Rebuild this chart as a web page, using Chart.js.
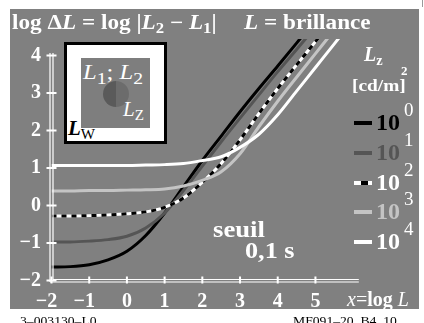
<!DOCTYPE html>
<html><head><meta charset="utf-8">
<script src="https://cdn.jsdelivr.net/npm/chart.js@4"></script>
<style>
html,body{margin:0;padding:0;background:#fff;width:424px;height:323px;overflow:hidden;}
#wrap{position:relative;width:424px;height:323px;}
#bg{position:absolute;left:10px;top:9px;width:409px;height:300px;background:#808080;}
#c{position:absolute;left:0;top:0;}
.t{position:absolute;font-family:'Liberation Serif','Times New Roman',serif;white-space:nowrap;line-height:1;color:#fff;transform-origin:0 0;}
.b{font-weight:bold;}
.sub{font-size:72%;position:relative;top:0.28em;}
.sup{position:absolute;font-family:'Liberation Serif',serif;line-height:1;color:#fff;font-size:19px;}
.ln{position:absolute;height:4px;}
</style></head>
<body>
<div id="wrap">
<div id="bg"></div>
<canvas id="c" width="424" height="323"></canvas>

<div class="t b" style="left:12px;top:12px;font-size:20px;transform:scaleX(1.16);">log Δ<i>L</i> = log |<i>L</i><span class="sub">2</span> − <i>L</i><span class="sub">1</span>|</div>
<div class="t b" style="left:244px;top:12px;font-size:20px;transform:scaleX(1.16);"><i>L</i> = brillance</div>

<div style="position:absolute;left:64px;top:42px;width:103px;height:102px;box-sizing:border-box;border:3px solid #000;background:#fff;"></div>
<div style="position:absolute;left:81px;top:58px;width:69px;height:70px;background:#7e7e7e;"></div>
<div style="position:absolute;left:103px;top:81px;width:26px;height:26px;border-radius:50%;background:linear-gradient(to right,#5a5a5a 50%,#6c6c6c 50%);"></div>
<div class="t" style="left:83px;top:61px;font-size:22px;transform:scaleX(1.12);"><i>L</i><span class="sub" style="font-size:80%">1</span>; <i>L</i><span class="sub" style="font-size:80%">2</span></div>
<div class="t" style="left:123px;top:99px;font-size:21px;"><i>L</i><span class="sub">Z</span></div>
<div class="t b" style="left:68px;top:118px;font-size:21px;color:#000;"><i>L</i><span class="sub" style="font-weight:normal">W</span></div>

<div class="t b" style="left:364px;top:44px;font-size:20px;"><i>L</i><span class="sub">z</span></div>
<div class="t b" style="left:352px;top:77px;font-size:17px;transform:scaleX(1.14);">[cd/m]</div>
<div class="t b" style="left:401px;top:64px;font-size:13px;">2</div>

<div id="legend"></div>

<div class="t b" style="left:213px;top:218px;font-size:23px;transform:scaleX(1.16);">seuil</div>
<div class="t b" style="left:245px;top:239px;font-size:23px;transform:scaleX(1.14);">0,1 s</div>

<div class="t" style="left:347px;top:289px;font-size:20px;"><i>x</i>=<b>log</b><i> L</i></div>

<div class="t" style="left:20px;top:314px;font-size:13px;color:#000;transform:scaleX(1.05);">3–003130–L0</div>
<div class="t" style="left:293px;top:314px;font-size:13px;color:#000;transform:scaleX(1.05);">MF091–20, B4_10</div>
<div style="position:absolute;left:422px;top:0;width:1px;height:7px;background:#999;"></div>
</div>

<script>
// ---- data ----
const xValues = [-2, -1.5, -1, -0.5, 0, 0.5, 1, 1.5, 2, 2.5, 3, 3.5, 4, 4.5, 5, 5.5, 6];
const lz1     = [-1.64, -1.63, -1.58, -1.45, -1.22, -0.80, -0.20, 0.50, 1.20, 1.85, 2.50, 3.12, 3.72, 4.33, 4.95, 5.57, 6.20];
const lz10    = [-0.97, -0.97, -0.95, -0.91, -0.82, -0.60, -0.20, 0.40, 1.05, 1.70, 2.33, 2.95, 3.57, 4.16, 4.76, 5.36, 5.96];
const lz100   = [-0.28, -0.28, -0.27, -0.25, -0.22, -0.17, -0.05, 0.20, 0.62, 1.12, 1.75, 2.45, 3.12, 3.75, 4.37, 5.00, 5.62];
const lz1000  = [0.39, 0.39, 0.40, 0.40, 0.41, 0.42, 0.44, 0.52, 0.67, 0.90, 1.38, 2.10, 2.78, 3.42, 4.05, 4.68, 5.30];
const lz10000 = [1.07, 1.07, 1.07, 1.07, 1.07, 1.08, 1.09, 1.12, 1.20, 1.30, 1.55, 1.90, 2.42, 3.05, 3.68, 4.31, 4.95];
const seriesExp = ['0', '1', '2', '3', '4'];
const xTicks = [-2, -1, 0, 1, 2, 3, 4, 5];
const xTickLabels = ['−2', '−1', '0', '1', '2', '3', '4', '5'];
const yTicks = [-2, -1, 0, 1, 2, 3, 4];
const yTickLabels = ['−2', '−1', '0', '1', '2', '3', '4'];

const pts = arr => xValues.map((x, i) => ({x: x, y: arr[i]}));
const font = {family: "'Liberation Serif', serif", size: 20, weight: 'bold'};

const axesPlugin = {
  id: 'axesDraw',
  afterDatasetsDraw(chart) {
    const {ctx, scales: {x, y}} = chart;
    const x0 = x.getPixelForValue(-2), y0 = y.getPixelForValue(-2);
    const yTop = y.getPixelForValue(4.07), xEnd = x.getPixelForValue(6.15);
    ctx.save();
    ctx.strokeStyle = '#fff';
    ctx.lineWidth = 1.2;
    ctx.beginPath();
    ctx.moveTo(x0 - 1.5, yTop); ctx.lineTo(x0 - 1.5, y0 + 1.5);
    ctx.moveTo(x0 + 1.5, yTop); ctx.lineTo(x0 + 1.5, y0 - 1);
    ctx.moveTo(x0 - 1.5, y0 + 1.5); ctx.lineTo(xEnd, y0 + 1.5);
    ctx.moveTo(x0 + 1.5, y0 - 1); ctx.lineTo(xEnd, y0 - 1);
    ctx.stroke();
    ctx.lineWidth = 2;
    ctx.beginPath();
    yTicks.forEach(v => { const p = y.getPixelForValue(v); ctx.moveTo(x0 - 5, p); ctx.lineTo(x0 + 5, p); });
    xTicks.forEach(v => { const p = x.getPixelForValue(v); ctx.moveTo(p, y0 - 4); ctx.lineTo(p, y0 + 3); });
    ctx.stroke();
    ctx.restore();
  }
};

new Chart(document.getElementById('c'), {
  type: 'line',
  data: {
    datasets: [
      {label: '10^0', data: pts(lz1), borderColor: '#000', order: 6},
      {label: '10^1', data: pts(lz10), borderColor: '#555', order: 5},
      {label: '10^2', data: pts(lz100), borderColor: '#fff', order: 4},
      {label: '10^2 dash', data: pts(lz100), borderColor: '#000', borderDash: [5, 5], order: 3.5},
      {label: '10^3', data: pts(lz1000), borderColor: '#c4c4c4', order: 2},
      {label: '10^4', data: pts(lz10000), borderColor: '#fff', order: 1}
    ]
  },
  options: {
    responsive: false, animation: false, devicePixelRatio: 1,
    layout: {padding: {left: 0, top: 39, right: 65.2, bottom: 0}},
    plugins: {legend: {display: false}, tooltip: {enabled: false}},
    elements: {point: {radius: 0}, line: {cubicInterpolationMode: 'monotone', borderWidth: 3, fill: false}},
    scales: {
      x: {
        type: 'linear', min: -2, max: 6.15,
        afterBuildTicks: s => { s.ticks = xTicks.map(v => ({value: v})); },
        afterFit: s => { s.height = 42.5; },
        grid: {display: false, drawTicks: false}, border: {display: false},
        ticks: {color: '#fff', font: font, padding: 9, maxRotation: 0, autoSkip: false,
          callback: (v, i) => xTickLabels[i] + (xTicks[i] < 0 ? '\u2002' : '')}
      },
      y: {
        type: 'linear', min: -2, max: 4.44,
        afterBuildTicks: s => { s.ticks = yTicks.map(v => ({value: v})); },
        afterFit: s => { s.width = 51.5; },
        grid: {display: false, drawTicks: false}, border: {display: false},
        ticks: {color: '#fff', font: font, padding: 10.5, autoSkip: false,
          callback: (v, i) => yTickLabels[i]}
      }
    }
  },
  plugins: [axesPlugin]
});

// legend built from the series
const legendRows = [
  {color: '#000', text: '#000', dash: false},
  {color: '#555', text: '#555', dash: false},
  {color: '#fff', text: '#fff', dash: true},
  {color: '#c4c4c4', text: '#c4c4c4', dash: false},
  {color: '#fff', text: '#fff', dash: false}
];
const leg = document.getElementById('legend');
legendRows.forEach((r, i) => {
  const cy = 123 + i * 29.8;
  if (r.dash) {
    leg.insertAdjacentHTML('beforeend',
      `<div class="ln" style="left:354px;top:${cy-2}px;width:18px;background:linear-gradient(to right,#fff 7px,#000 7px,#000 14px,#fff 14px);"></div>`);
  } else {
    leg.insertAdjacentHTML('beforeend',
      `<div class="ln" style="left:354px;top:${cy-2}px;width:18px;background:${r.color};"></div>`);
  }
  leg.insertAdjacentHTML('beforeend',
    `<div class="t b" style="left:376px;top:${cy-13}px;font-size:24px;color:${r.text};">10</div>` +
    `<div class="sup" style="left:404px;top:${cy-23}px;">${seriesExp[i]}</div>`);
});
</script>
</body></html>
